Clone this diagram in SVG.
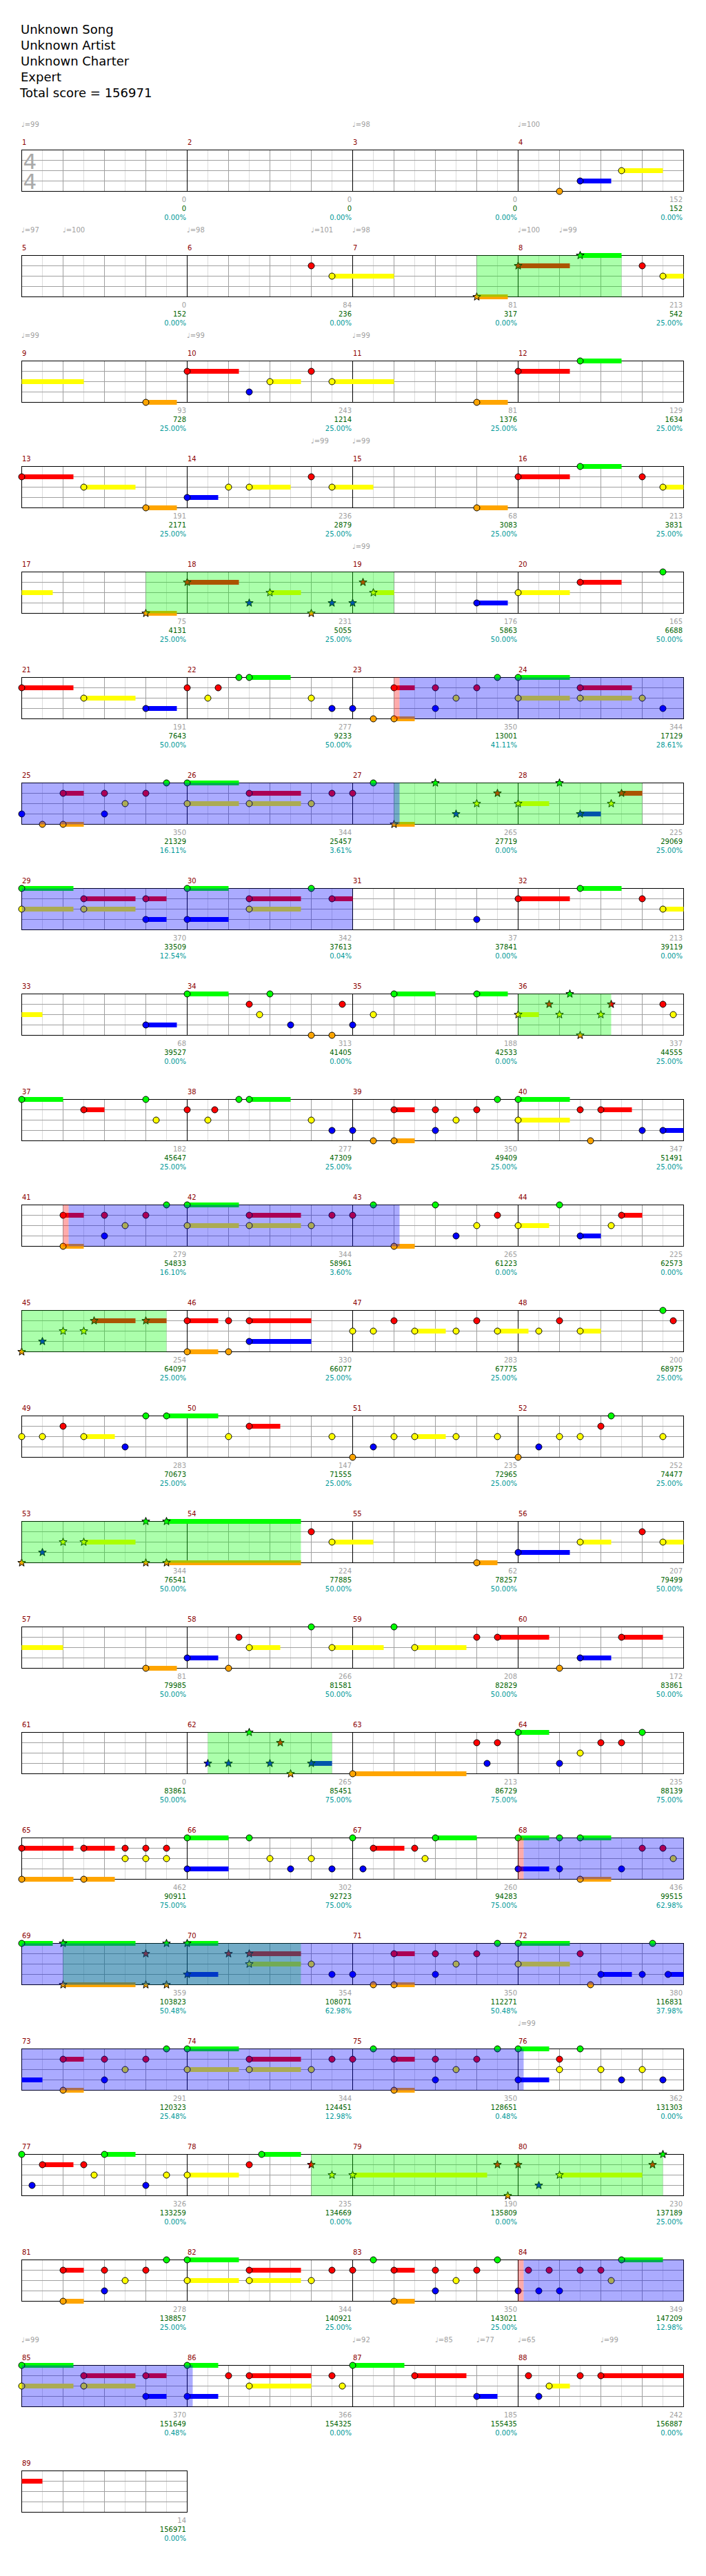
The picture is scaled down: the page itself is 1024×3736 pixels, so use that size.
<svg xmlns="http://www.w3.org/2000/svg" xmlns:xlink="http://www.w3.org/1999/xlink" width="1024" height="3736" viewBox="0 0 1024 3736">
<style>
text{font-family:"DejaVu Sans",Verdana,sans-serif}
.ti{font-size:18px;fill:#000}
.ts{font-size:31px;fill:#aaa}
.tp{font-size:10px;fill:#a0a0a0}
.mn{font-size:10px;fill:#8b0000}
.s1,.s2,.s3{font-size:10px;text-anchor:end}
.s1{fill:#a0a0a0}.s2{fill:#006400}.s3{fill:#009999}
.G{fill:#0f0}.R{fill:#f00}.Y{fill:#ff0}.B{fill:#00f}.O{fill:#ffa500}
use{stroke:#000;stroke-width:1}
.sG,.sR,.sY,.sB,.sO{fill:none;stroke-width:7}
.sG{stroke:#0f0}.sR{stroke:#f00}.sY{stroke:#ff0}.sB{stroke:#00f}.sO{stroke:#ffa500}
.og{fill:#0f0;fill-opacity:.33}.ob{fill:#00f;fill-opacity:.33}.or{fill:#f00;fill-opacity:.33}
.lt{stroke:#dcdcdc;fill:none}.md{stroke:#a0a0a0;fill:none}.bk{stroke:#000;fill:none}
</style>
<defs>
<circle id="c" r="4.5"/>
<path id="s" d="M0,-6L1.47,-2.02L5.71,-1.85L2.38,0.77L3.53,4.85L0,2.5L-3.53,4.85L-2.38,0.77L-5.71,-1.85L-1.47,-2.02Z"/>
<g id="g4">
<path class="lt" d="M30 0v60M90 0v60M150 0v60M210 0v60M270 0v60M330 0v60M390 0v60M450 0v60M510 0v60M570 0v60M630 0v60M690 0v60M750 0v60M810 0v60M870 0v60M930 0v60"/>
<path class="md" d="M60 0v60M120 0v60M180 0v60M300 0v60M360 0v60M420 0v60M540 0v60M600 0v60M660 0v60M780 0v60M840 0v60M900 0v60M0 15h960M0 30h960M0 45h960"/>
<path class="bk" d="M240 0v60M480 0v60M720 0v60"/>
<rect class="bk" width="960" height="60"/>
</g>
<g id="g1">
<path class="lt" d="M30 0v60M90 0v60M150 0v60M210 0v60"/>
<path class="md" d="M60 0v60M120 0v60M180 0v60M0 15h240M0 30h240M0 45h240"/>
<rect class="bk" width="240" height="60"/>
</g>
</defs>
<rect width="1024" height="3736" fill="#fff"/>
<g id="header">
<text class="ti" x="30" y="49">Unknown Song</text>
<text class="ti" x="30" y="72">Unknown Artist</text>
<text class="ti" x="30" y="95">Unknown Charter</text>
<text class="ti" x="30" y="118">Expert</text>
<text class="ti" x="29" y="141">Total score = 156971</text>
</g>

<g id="row1" transform="translate(31.5,217.5)">
<use href="#g4"/>
<text class="ts" x="2" y="27.5">4</text><text class="ts" x="2" y="56.5">4</text>
<path class="sB" d="M810 45H855"/><path class="sY" d="M870 30H930"/>
<use href="#c" class="O" x="780" y="60"/><use href="#c" class="B" x="810" y="45"/><use href="#c" class="Y" x="870" y="30"/>
<text class="tp" x="-0.5" y="-33.5">♩=99</text><text class="tp" x="479.5" y="-33.5">♩=98</text><text class="tp" x="719.5" y="-33.5">♩=100</text>
<text class="mn" x="0.5" y="-7.5">1</text><text class="mn" x="240.5" y="-7.5">2</text><text class="mn" x="480.5" y="-7.5">3</text><text class="mn" x="720.5" y="-7.5">4</text>
<text class="s1" x="238.5" y="75.5">0</text><text class="s2" x="238.5" y="88.5">0</text><text class="s3" x="238.5" y="101.5">0.00%</text>
<text class="s1" x="478.5" y="75.5">0</text><text class="s2" x="478.5" y="88.5">0</text><text class="s3" x="478.5" y="101.5">0.00%</text>
<text class="s1" x="718.5" y="75.5">0</text><text class="s2" x="718.5" y="88.5">0</text><text class="s3" x="718.5" y="101.5">0.00%</text>
<text class="s1" x="958.5" y="75.5">152</text><text class="s2" x="958.5" y="88.5">152</text><text class="s3" x="958.5" y="101.5">0.00%</text>
</g>

<g id="row2" transform="translate(31.5,370.5)">
<use href="#g4"/>
<path class="sY" d="M450 30H540M930 30H960"/><path class="sO" d="M660 60H705"/><path class="sR" d="M720 15H795"/><path class="sG" d="M810 0H870"/>
<use href="#c" class="R" x="420" y="15"/><use href="#c" class="Y" x="450" y="30"/>
<use href="#s" class="O" x="660" y="60"/><use href="#s" class="R" x="720" y="15"/><use href="#s" class="G" x="810" y="0"/>
<use href="#c" class="R" x="900" y="15"/><use href="#c" class="Y" x="930" y="30"/>
<rect class="og" x="660" y="0" width="210" height="60"/>
<text class="tp" x="-0.5" y="-33.5">♩=97</text><text class="tp" x="59.5" y="-33.5">♩=100</text><text class="tp" x="239.5" y="-33.5">♩=98</text><text class="tp" x="419.5" y="-33.5">♩=101</text><text class="tp" x="479.5" y="-33.5">♩=98</text><text class="tp" x="719.5" y="-33.5">♩=100</text><text class="tp" x="779.5" y="-33.5">♩=99</text>
<text class="mn" x="0.5" y="-7.5">5</text><text class="mn" x="240.5" y="-7.5">6</text><text class="mn" x="480.5" y="-7.5">7</text><text class="mn" x="720.5" y="-7.5">8</text>
<text class="s1" x="238.5" y="75.5">0</text><text class="s2" x="238.5" y="88.5">152</text><text class="s3" x="238.5" y="101.5">0.00%</text>
<text class="s1" x="478.5" y="75.5">84</text><text class="s2" x="478.5" y="88.5">236</text><text class="s3" x="478.5" y="101.5">0.00%</text>
<text class="s1" x="718.5" y="75.5">81</text><text class="s2" x="718.5" y="88.5">317</text><text class="s3" x="718.5" y="101.5">0.00%</text>
<text class="s1" x="958.5" y="75.5">213</text><text class="s2" x="958.5" y="88.5">542</text><text class="s3" x="958.5" y="101.5">25.00%</text>
</g>

<g id="row3" transform="translate(31.5,523.5)">
<use href="#g4"/>
<path class="sY" d="M0 30H90M360 30H405M450 30H540"/><path class="sO" d="M180 60H225M660 60H705"/><path class="sR" d="M240 15H315M720 15H795"/><path class="sG" d="M810 0H870"/>
<use href="#c" class="O" x="180" y="60"/><use href="#c" class="R" x="240" y="15"/><use href="#c" class="B" x="330" y="45"/><use href="#c" class="Y" x="360" y="30"/><use href="#c" class="R" x="420" y="15"/><use href="#c" class="Y" x="450" y="30"/><use href="#c" class="O" x="660" y="60"/><use href="#c" class="R" x="720" y="15"/><use href="#c" class="G" x="810" y="0"/>
<text class="tp" x="-0.5" y="-33.5">♩=99</text><text class="tp" x="239.5" y="-33.5">♩=99</text><text class="tp" x="479.5" y="-33.5">♩=99</text>
<text class="mn" x="0.5" y="-7.5">9</text><text class="mn" x="240.5" y="-7.5">10</text><text class="mn" x="480.5" y="-7.5">11</text><text class="mn" x="720.5" y="-7.5">12</text>
<text class="s1" x="238.5" y="75.5">93</text><text class="s2" x="238.5" y="88.5">728</text><text class="s3" x="238.5" y="101.5">25.00%</text>
<text class="s1" x="478.5" y="75.5">243</text><text class="s2" x="478.5" y="88.5">1214</text><text class="s3" x="478.5" y="101.5">25.00%</text>
<text class="s1" x="718.5" y="75.5">81</text><text class="s2" x="718.5" y="88.5">1376</text><text class="s3" x="718.5" y="101.5">25.00%</text>
<text class="s1" x="958.5" y="75.5">129</text><text class="s2" x="958.5" y="88.5">1634</text><text class="s3" x="958.5" y="101.5">25.00%</text>
</g>

<g id="row4" transform="translate(31.5,676.5)">
<use href="#g4"/>
<path class="sR" d="M0 15H75M720 15H795"/><path class="sY" d="M90 30H165M330 30H390M450 30H510M930 30H960"/><path class="sO" d="M180 60H225M660 60H705"/><path class="sB" d="M240 45H285"/><path class="sG" d="M810 0H870"/>
<use href="#c" class="R" x="0" y="15"/><use href="#c" class="Y" x="90" y="30"/><use href="#c" class="O" x="180" y="60"/><use href="#c" class="B" x="240" y="45"/><use href="#c" class="Y" x="300" y="30"/><use href="#c" class="Y" x="330" y="30"/><use href="#c" class="R" x="420" y="15"/><use href="#c" class="Y" x="450" y="30"/><use href="#c" class="O" x="660" y="60"/><use href="#c" class="R" x="720" y="15"/><use href="#c" class="G" x="810" y="0"/><use href="#c" class="R" x="900" y="15"/><use href="#c" class="Y" x="930" y="30"/>
<text class="tp" x="419.5" y="-33.5">♩=99</text><text class="tp" x="479.5" y="-33.5">♩=99</text>
<text class="mn" x="0.5" y="-7.5">13</text><text class="mn" x="240.5" y="-7.5">14</text><text class="mn" x="480.5" y="-7.5">15</text><text class="mn" x="720.5" y="-7.5">16</text>
<text class="s1" x="238.5" y="75.5">191</text><text class="s2" x="238.5" y="88.5">2171</text><text class="s3" x="238.5" y="101.5">25.00%</text>
<text class="s1" x="478.5" y="75.5">236</text><text class="s2" x="478.5" y="88.5">2879</text><text class="s3" x="478.5" y="101.5">25.00%</text>
<text class="s1" x="718.5" y="75.5">68</text><text class="s2" x="718.5" y="88.5">3083</text><text class="s3" x="718.5" y="101.5">25.00%</text>
<text class="s1" x="958.5" y="75.5">213</text><text class="s2" x="958.5" y="88.5">3831</text><text class="s3" x="958.5" y="101.5">25.00%</text>
</g>

<g id="row5" transform="translate(31.5,829.5)">
<use href="#g4"/>
<path class="sY" d="M0 30H45M360 30H405M510 30H540M720 30H795"/><path class="sO" d="M180 60H225"/><path class="sR" d="M240 15H315M810 15H870"/><path class="sB" d="M660 45H705"/>
<use href="#s" class="O" x="180" y="60"/><use href="#s" class="R" x="240" y="15"/><use href="#s" class="B" x="330" y="45"/><use href="#s" class="Y" x="360" y="30"/><use href="#s" class="O" x="420" y="60"/><use href="#s" class="B" x="450" y="45"/><use href="#s" class="B" x="480" y="45"/><use href="#s" class="R" x="495" y="15"/><use href="#s" class="Y" x="510" y="30"/>
<use href="#c" class="B" x="660" y="45"/><use href="#c" class="Y" x="720" y="30"/><use href="#c" class="R" x="810" y="15"/><use href="#c" class="G" x="930" y="0"/>
<rect class="og" x="180" y="0" width="360" height="60"/>
<text class="tp" x="479.5" y="-33.5">♩=99</text>
<text class="mn" x="0.5" y="-7.5">17</text><text class="mn" x="240.5" y="-7.5">18</text><text class="mn" x="480.5" y="-7.5">19</text><text class="mn" x="720.5" y="-7.5">20</text>
<text class="s1" x="238.5" y="75.5">75</text><text class="s2" x="238.5" y="88.5">4131</text><text class="s3" x="238.5" y="101.5">25.00%</text>
<text class="s1" x="478.5" y="75.5">231</text><text class="s2" x="478.5" y="88.5">5055</text><text class="s3" x="478.5" y="101.5">25.00%</text>
<text class="s1" x="718.5" y="75.5">176</text><text class="s2" x="718.5" y="88.5">5863</text><text class="s3" x="718.5" y="101.5">50.00%</text>
<text class="s1" x="958.5" y="75.5">165</text><text class="s2" x="958.5" y="88.5">6688</text><text class="s3" x="958.5" y="101.5">50.00%</text>
</g>

<g id="row6" transform="translate(31.5,982.5)">
<use href="#g4"/>
<path class="sR" d="M0 15H75M540 15H570M810 15H885"/><path class="sY" d="M90 30H165M720 30H795M810 30H885"/><path class="sB" d="M180 45H225"/><path class="sG" d="M330 0H390M720 0H795"/><path class="sO" d="M540 60H570"/>
<use href="#c" class="R" x="0" y="15"/><use href="#c" class="Y" x="90" y="30"/><use href="#c" class="B" x="180" y="45"/><use href="#c" class="R" x="240" y="15"/><use href="#c" class="Y" x="270" y="30"/><use href="#c" class="R" x="285" y="15"/><use href="#c" class="G" x="315" y="0"/><use href="#c" class="G" x="330" y="0"/><use href="#c" class="Y" x="420" y="30"/><use href="#c" class="B" x="450" y="45"/><use href="#c" class="B" x="480" y="45"/><use href="#c" class="O" x="510" y="60"/><use href="#c" class="R" x="540" y="15"/><use href="#c" class="O" x="540" y="60"/><use href="#c" class="R" x="600" y="15"/><use href="#c" class="B" x="600" y="45"/><use href="#c" class="Y" x="630" y="30"/><use href="#c" class="R" x="660" y="15"/><use href="#c" class="G" x="690" y="0"/><use href="#c" class="G" x="720" y="0"/><use href="#c" class="Y" x="720" y="30"/><use href="#c" class="R" x="810" y="15"/><use href="#c" class="Y" x="810" y="30"/><use href="#c" class="Y" x="900" y="30"/><use href="#c" class="B" x="930" y="45"/>
<rect class="or" x="540" y="0" width="8" height="60"/><rect class="ob" x="548" y="0" width="412" height="60"/>
<text class="mn" x="0.5" y="-7.5">21</text><text class="mn" x="240.5" y="-7.5">22</text><text class="mn" x="480.5" y="-7.5">23</text><text class="mn" x="720.5" y="-7.5">24</text>
<text class="s1" x="238.5" y="75.5">191</text><text class="s2" x="238.5" y="88.5">7643</text><text class="s3" x="238.5" y="101.5">50.00%</text>
<text class="s1" x="478.5" y="75.5">277</text><text class="s2" x="478.5" y="88.5">9233</text><text class="s3" x="478.5" y="101.5">50.00%</text>
<text class="s1" x="718.5" y="75.5">350</text><text class="s2" x="718.5" y="88.5">13001</text><text class="s3" x="718.5" y="101.5">41.11%</text>
<text class="s1" x="958.5" y="75.5">344</text><text class="s2" x="958.5" y="88.5">17129</text><text class="s3" x="958.5" y="101.5">28.61%</text>
</g>

<g id="row7" transform="translate(31.5,1135.5)">
<use href="#g4"/>
<path class="sR" d="M60 15H90M330 15H405M870 15H900"/><path class="sO" d="M60 60H90M540 60H570"/><path class="sG" d="M240 0H315"/><path class="sY" d="M240 30H315M330 30H405M720 30H765"/><path class="sB" d="M810 45H840"/>
<use href="#c" class="B" x="0" y="45"/><use href="#c" class="O" x="30" y="60"/><use href="#c" class="R" x="60" y="15"/><use href="#c" class="O" x="60" y="60"/><use href="#c" class="R" x="120" y="15"/><use href="#c" class="B" x="120" y="45"/><use href="#c" class="Y" x="150" y="30"/><use href="#c" class="R" x="180" y="15"/><use href="#c" class="G" x="210" y="0"/><use href="#c" class="G" x="240" y="0"/><use href="#c" class="Y" x="240" y="30"/><use href="#c" class="R" x="330" y="15"/><use href="#c" class="Y" x="330" y="30"/><use href="#c" class="Y" x="420" y="30"/><use href="#c" class="R" x="450" y="15"/><use href="#c" class="R" x="480" y="15"/><use href="#c" class="G" x="510" y="0"/>
<use href="#s" class="O" x="540" y="60"/><use href="#s" class="G" x="600" y="0"/><use href="#s" class="B" x="630" y="45"/><use href="#s" class="Y" x="660" y="30"/><use href="#s" class="R" x="690" y="15"/><use href="#s" class="Y" x="720" y="30"/><use href="#s" class="G" x="780" y="0"/><use href="#s" class="B" x="810" y="45"/><use href="#s" class="Y" x="855" y="30"/><use href="#s" class="R" x="870" y="15"/>
<rect class="og" x="540" y="0" width="360" height="60"/><rect class="ob" x="0" y="0" width="548" height="60"/>
<text class="mn" x="0.5" y="-7.5">25</text><text class="mn" x="240.5" y="-7.5">26</text><text class="mn" x="480.5" y="-7.5">27</text><text class="mn" x="720.5" y="-7.5">28</text>
<text class="s1" x="238.5" y="75.5">350</text><text class="s2" x="238.5" y="88.5">21329</text><text class="s3" x="238.5" y="101.5">16.11%</text>
<text class="s1" x="478.5" y="75.5">344</text><text class="s2" x="478.5" y="88.5">25457</text><text class="s3" x="478.5" y="101.5">3.61%</text>
<text class="s1" x="718.5" y="75.5">265</text><text class="s2" x="718.5" y="88.5">27719</text><text class="s3" x="718.5" y="101.5">0.00%</text>
<text class="s1" x="958.5" y="75.5">225</text><text class="s2" x="958.5" y="88.5">29069</text><text class="s3" x="958.5" y="101.5">25.00%</text>
</g>

<g id="row8" transform="translate(31.5,1288.5)">
<use href="#g4"/>
<path class="sG" d="M0 0H75M240 0H300M810 0H870"/><path class="sY" d="M0 30H75M90 30H165M330 30H405M930 30H960"/><path class="sR" d="M90 15H165M180 15H210M330 15H405M450 15H480M720 15H795"/><path class="sB" d="M180 45H210M240 45H300"/>
<use href="#c" class="G" x="0" y="0"/><use href="#c" class="Y" x="0" y="30"/><use href="#c" class="R" x="90" y="15"/><use href="#c" class="Y" x="90" y="30"/><use href="#c" class="R" x="180" y="15"/><use href="#c" class="B" x="180" y="45"/><use href="#c" class="G" x="240" y="0"/><use href="#c" class="B" x="240" y="45"/><use href="#c" class="R" x="330" y="15"/><use href="#c" class="Y" x="330" y="30"/><use href="#c" class="G" x="420" y="0"/><use href="#c" class="R" x="450" y="15"/><use href="#c" class="B" x="660" y="45"/><use href="#c" class="R" x="720" y="15"/><use href="#c" class="G" x="810" y="0"/><use href="#c" class="R" x="900" y="15"/><use href="#c" class="Y" x="930" y="30"/>
<rect class="ob" x="0" y="0" width="480" height="60"/>
<text class="mn" x="0.5" y="-7.5">29</text><text class="mn" x="240.5" y="-7.5">30</text><text class="mn" x="480.5" y="-7.5">31</text><text class="mn" x="720.5" y="-7.5">32</text>
<text class="s1" x="238.5" y="75.5">370</text><text class="s2" x="238.5" y="88.5">33509</text><text class="s3" x="238.5" y="101.5">12.54%</text>
<text class="s1" x="478.5" y="75.5">342</text><text class="s2" x="478.5" y="88.5">37613</text><text class="s3" x="478.5" y="101.5">0.04%</text>
<text class="s1" x="718.5" y="75.5">37</text><text class="s2" x="718.5" y="88.5">37841</text><text class="s3" x="718.5" y="101.5">0.00%</text>
<text class="s1" x="958.5" y="75.5">213</text><text class="s2" x="958.5" y="88.5">39119</text><text class="s3" x="958.5" y="101.5">0.00%</text>
</g>

<g id="row9" transform="translate(31.5,1441.5)">
<use href="#g4"/>
<path class="sY" d="M0 30H30M720 30H750"/><path class="sB" d="M180 45H225"/><path class="sG" d="M240 0H300M540 0H600M660 0H705"/>
<use href="#c" class="B" x="180" y="45"/><use href="#c" class="G" x="240" y="0"/><use href="#c" class="R" x="330" y="15"/><use href="#c" class="Y" x="345" y="30"/><use href="#c" class="G" x="360" y="0"/><use href="#c" class="B" x="390" y="45"/><use href="#c" class="O" x="420" y="60"/><use href="#c" class="O" x="450" y="60"/><use href="#c" class="R" x="465" y="15"/><use href="#c" class="B" x="480" y="45"/><use href="#c" class="Y" x="510" y="30"/><use href="#c" class="G" x="540" y="0"/><use href="#c" class="G" x="660" y="0"/>
<use href="#s" class="Y" x="720" y="30"/><use href="#s" class="R" x="765" y="15"/><use href="#s" class="Y" x="780" y="30"/><use href="#s" class="G" x="795" y="0"/><use href="#s" class="O" x="810" y="60"/><use href="#s" class="Y" x="840" y="30"/><use href="#s" class="R" x="855" y="15"/>
<use href="#c" class="R" x="930" y="15"/><use href="#c" class="Y" x="945" y="30"/>
<rect class="og" x="720" y="0" width="135" height="60"/>
<text class="mn" x="0.5" y="-7.5">33</text><text class="mn" x="240.5" y="-7.5">34</text><text class="mn" x="480.5" y="-7.5">35</text><text class="mn" x="720.5" y="-7.5">36</text>
<text class="s1" x="238.5" y="75.5">68</text><text class="s2" x="238.5" y="88.5">39527</text><text class="s3" x="238.5" y="101.5">0.00%</text>
<text class="s1" x="478.5" y="75.5">313</text><text class="s2" x="478.5" y="88.5">41405</text><text class="s3" x="478.5" y="101.5">0.00%</text>
<text class="s1" x="718.5" y="75.5">188</text><text class="s2" x="718.5" y="88.5">42533</text><text class="s3" x="718.5" y="101.5">0.00%</text>
<text class="s1" x="958.5" y="75.5">337</text><text class="s2" x="958.5" y="88.5">44555</text><text class="s3" x="958.5" y="101.5">25.00%</text>
</g>

<g id="row10" transform="translate(31.5,1594.5)">
<use href="#g4"/>
<path class="sG" d="M0 0H60M330 0H390M720 0H795"/><path class="sR" d="M90 15H120M540 15H570M840 15H885"/><path class="sO" d="M540 60H570"/><path class="sY" d="M720 30H795"/><path class="sB" d="M930 45H960"/>
<use href="#c" class="G" x="0" y="0"/><use href="#c" class="R" x="90" y="15"/><use href="#c" class="G" x="180" y="0"/><use href="#c" class="Y" x="195" y="30"/><use href="#c" class="R" x="240" y="15"/><use href="#c" class="Y" x="270" y="30"/><use href="#c" class="R" x="280" y="15"/><use href="#c" class="G" x="315" y="0"/><use href="#c" class="G" x="330" y="0"/><use href="#c" class="Y" x="420" y="30"/><use href="#c" class="B" x="450" y="45"/><use href="#c" class="B" x="480" y="45"/><use href="#c" class="O" x="510" y="60"/><use href="#c" class="R" x="540" y="15"/><use href="#c" class="O" x="540" y="60"/><use href="#c" class="R" x="600" y="15"/><use href="#c" class="B" x="600" y="45"/><use href="#c" class="Y" x="630" y="30"/><use href="#c" class="R" x="660" y="15"/><use href="#c" class="G" x="690" y="0"/><use href="#c" class="G" x="720" y="0"/><use href="#c" class="Y" x="720" y="30"/><use href="#c" class="R" x="810" y="15"/><use href="#c" class="O" x="825" y="60"/><use href="#c" class="R" x="840" y="15"/><use href="#c" class="B" x="900" y="45"/><use href="#c" class="B" x="930" y="45"/>
<text class="mn" x="0.5" y="-7.5">37</text><text class="mn" x="240.5" y="-7.5">38</text><text class="mn" x="480.5" y="-7.5">39</text><text class="mn" x="720.5" y="-7.5">40</text>
<text class="s1" x="238.5" y="75.5">182</text><text class="s2" x="238.5" y="88.5">45647</text><text class="s3" x="238.5" y="101.5">25.00%</text>
<text class="s1" x="478.5" y="75.5">277</text><text class="s2" x="478.5" y="88.5">47309</text><text class="s3" x="478.5" y="101.5">25.00%</text>
<text class="s1" x="718.5" y="75.5">350</text><text class="s2" x="718.5" y="88.5">49409</text><text class="s3" x="718.5" y="101.5">25.00%</text>
<text class="s1" x="958.5" y="75.5">347</text><text class="s2" x="958.5" y="88.5">51491</text><text class="s3" x="958.5" y="101.5">25.00%</text>
</g>

<g id="row11" transform="translate(31.5,1747.5)">
<use href="#g4"/>
<path class="sR" d="M60 15H90M330 15H405M870 15H900"/><path class="sO" d="M60 60H90M540 60H570"/><path class="sG" d="M240 0H315"/><path class="sY" d="M240 30H315M330 30H405M720 30H765"/><path class="sB" d="M810 45H840"/>
<use href="#c" class="R" x="60" y="15"/><use href="#c" class="O" x="60" y="60"/><use href="#c" class="R" x="120" y="15"/><use href="#c" class="B" x="120" y="45"/><use href="#c" class="Y" x="150" y="30"/><use href="#c" class="R" x="180" y="15"/><use href="#c" class="G" x="210" y="0"/><use href="#c" class="G" x="240" y="0"/><use href="#c" class="Y" x="240" y="30"/><use href="#c" class="R" x="330" y="15"/><use href="#c" class="Y" x="330" y="30"/><use href="#c" class="Y" x="420" y="30"/><use href="#c" class="R" x="450" y="15"/><use href="#c" class="R" x="480" y="15"/><use href="#c" class="G" x="510" y="0"/><use href="#c" class="O" x="540" y="60"/><use href="#c" class="G" x="600" y="0"/><use href="#c" class="B" x="630" y="45"/><use href="#c" class="Y" x="660" y="30"/><use href="#c" class="R" x="690" y="15"/><use href="#c" class="Y" x="720" y="30"/><use href="#c" class="G" x="780" y="0"/><use href="#c" class="B" x="810" y="45"/><use href="#c" class="Y" x="855" y="30"/><use href="#c" class="R" x="870" y="15"/>
<rect class="or" x="60" y="0" width="8" height="60"/><rect class="ob" x="68" y="0" width="480" height="60"/>
<text class="mn" x="0.5" y="-7.5">41</text><text class="mn" x="240.5" y="-7.5">42</text><text class="mn" x="480.5" y="-7.5">43</text><text class="mn" x="720.5" y="-7.5">44</text>
<text class="s1" x="238.5" y="75.5">279</text><text class="s2" x="238.5" y="88.5">54833</text><text class="s3" x="238.5" y="101.5">16.10%</text>
<text class="s1" x="478.5" y="75.5">344</text><text class="s2" x="478.5" y="88.5">58961</text><text class="s3" x="478.5" y="101.5">3.60%</text>
<text class="s1" x="718.5" y="75.5">265</text><text class="s2" x="718.5" y="88.5">61223</text><text class="s3" x="718.5" y="101.5">0.00%</text>
<text class="s1" x="958.5" y="75.5">225</text><text class="s2" x="958.5" y="88.5">62573</text><text class="s3" x="958.5" y="101.5">0.00%</text>
</g>

<g id="row12" transform="translate(31.5,1900.5)">
<use href="#g4"/>
<path class="sR" d="M105 15H165M180 15H210M240 15H285M330 15H420"/><path class="sO" d="M240 60H285"/><path class="sB" d="M330 45H420"/><path class="sY" d="M570 30H615M690 30H735M810 30H840"/>
<use href="#s" class="O" x="0" y="60"/><use href="#s" class="B" x="30" y="45"/><use href="#s" class="Y" x="60" y="30"/><use href="#s" class="Y" x="90" y="30"/><use href="#s" class="R" x="105" y="15"/><use href="#s" class="R" x="180" y="15"/>
<use href="#c" class="R" x="240" y="15"/><use href="#c" class="O" x="240" y="60"/><use href="#c" class="R" x="300" y="15"/><use href="#c" class="O" x="300" y="60"/><use href="#c" class="R" x="330" y="15"/><use href="#c" class="B" x="330" y="45"/><use href="#c" class="Y" x="480" y="30"/><use href="#c" class="Y" x="510" y="30"/><use href="#c" class="R" x="540" y="15"/><use href="#c" class="Y" x="570" y="30"/><use href="#c" class="Y" x="630" y="30"/><use href="#c" class="R" x="660" y="15"/><use href="#c" class="Y" x="690" y="30"/><use href="#c" class="Y" x="750" y="30"/><use href="#c" class="R" x="780" y="15"/><use href="#c" class="Y" x="810" y="30"/><use href="#c" class="G" x="930" y="0"/><use href="#c" class="R" x="945" y="15"/>
<rect class="og" x="0" y="0" width="210" height="60"/>
<text class="mn" x="0.5" y="-7.5">45</text><text class="mn" x="240.5" y="-7.5">46</text><text class="mn" x="480.5" y="-7.5">47</text><text class="mn" x="720.5" y="-7.5">48</text>
<text class="s1" x="238.5" y="75.5">254</text><text class="s2" x="238.5" y="88.5">64097</text><text class="s3" x="238.5" y="101.5">25.00%</text>
<text class="s1" x="478.5" y="75.5">330</text><text class="s2" x="478.5" y="88.5">66077</text><text class="s3" x="478.5" y="101.5">25.00%</text>
<text class="s1" x="718.5" y="75.5">283</text><text class="s2" x="718.5" y="88.5">67775</text><text class="s3" x="718.5" y="101.5">25.00%</text>
<text class="s1" x="958.5" y="75.5">200</text><text class="s2" x="958.5" y="88.5">68975</text><text class="s3" x="958.5" y="101.5">25.00%</text>
</g>

<g id="row13" transform="translate(31.5,2053.5)">
<use href="#g4"/>
<path class="sY" d="M90 30H135M570 30H615"/><path class="sG" d="M210 0H285"/><path class="sR" d="M330 15H375"/>
<use href="#c" class="Y" x="0" y="30"/><use href="#c" class="Y" x="30" y="30"/><use href="#c" class="R" x="60" y="15"/><use href="#c" class="Y" x="90" y="30"/><use href="#c" class="B" x="150" y="45"/><use href="#c" class="G" x="180" y="0"/><use href="#c" class="G" x="210" y="0"/><use href="#c" class="Y" x="300" y="30"/><use href="#c" class="R" x="330" y="15"/><use href="#c" class="Y" x="450" y="30"/><use href="#c" class="O" x="480" y="60"/><use href="#c" class="B" x="510" y="45"/><use href="#c" class="Y" x="540" y="30"/><use href="#c" class="Y" x="570" y="30"/><use href="#c" class="Y" x="630" y="30"/><use href="#c" class="Y" x="690" y="30"/><use href="#c" class="O" x="720" y="60"/><use href="#c" class="B" x="750" y="45"/><use href="#c" class="Y" x="780" y="30"/><use href="#c" class="Y" x="810" y="30"/><use href="#c" class="R" x="840" y="15"/><use href="#c" class="G" x="855" y="0"/><use href="#c" class="Y" x="930" y="30"/>
<text class="mn" x="0.5" y="-7.5">49</text><text class="mn" x="240.5" y="-7.5">50</text><text class="mn" x="480.5" y="-7.5">51</text><text class="mn" x="720.5" y="-7.5">52</text>
<text class="s1" x="238.5" y="75.5">283</text><text class="s2" x="238.5" y="88.5">70673</text><text class="s3" x="238.5" y="101.5">25.00%</text>
<text class="s1" x="478.5" y="75.5">147</text><text class="s2" x="478.5" y="88.5">71555</text><text class="s3" x="478.5" y="101.5">25.00%</text>
<text class="s1" x="718.5" y="75.5">235</text><text class="s2" x="718.5" y="88.5">72965</text><text class="s3" x="718.5" y="101.5">25.00%</text>
<text class="s1" x="958.5" y="75.5">252</text><text class="s2" x="958.5" y="88.5">74477</text><text class="s3" x="958.5" y="101.5">25.00%</text>
</g>

<g id="row14" transform="translate(31.5,2206.5)">
<use href="#g4"/>
<path class="sY" d="M90 30H165M450 30H510M810 30H855M930 30H960"/><path class="sG" d="M210 0H405"/><path class="sO" d="M210 60H405M660 60H690"/><path class="sB" d="M720 45H795"/>
<use href="#s" class="O" x="0" y="60"/><use href="#s" class="B" x="30" y="45"/><use href="#s" class="Y" x="60" y="30"/><use href="#s" class="Y" x="90" y="30"/><use href="#s" class="G" x="180" y="0"/><use href="#s" class="O" x="180" y="60"/><use href="#s" class="G" x="210" y="0"/><use href="#s" class="O" x="210" y="60"/>
<use href="#c" class="R" x="420" y="15"/><use href="#c" class="Y" x="450" y="30"/><use href="#c" class="O" x="660" y="60"/><use href="#c" class="B" x="720" y="45"/><use href="#c" class="Y" x="810" y="30"/><use href="#c" class="R" x="900" y="15"/><use href="#c" class="Y" x="930" y="30"/>
<rect class="og" x="0" y="0" width="405" height="60"/>
<text class="mn" x="0.5" y="-7.5">53</text><text class="mn" x="240.5" y="-7.5">54</text><text class="mn" x="480.5" y="-7.5">55</text><text class="mn" x="720.5" y="-7.5">56</text>
<text class="s1" x="238.5" y="75.5">344</text><text class="s2" x="238.5" y="88.5">76541</text><text class="s3" x="238.5" y="101.5">50.00%</text>
<text class="s1" x="478.5" y="75.5">224</text><text class="s2" x="478.5" y="88.5">77885</text><text class="s3" x="478.5" y="101.5">50.00%</text>
<text class="s1" x="718.5" y="75.5">62</text><text class="s2" x="718.5" y="88.5">78257</text><text class="s3" x="718.5" y="101.5">50.00%</text>
<text class="s1" x="958.5" y="75.5">207</text><text class="s2" x="958.5" y="88.5">79499</text><text class="s3" x="958.5" y="101.5">50.00%</text>
</g>

<g id="row15" transform="translate(31.5,2359.5)">
<use href="#g4"/>
<path class="sY" d="M0 30H60M330 30H375M450 30H525M570 30H645"/><path class="sO" d="M180 60H225"/><path class="sB" d="M240 45H285M810 45H855"/><path class="sR" d="M690 15H765M870 15H930"/>
<use href="#c" class="O" x="180" y="60"/><use href="#c" class="B" x="240" y="45"/><use href="#c" class="O" x="300" y="60"/><use href="#c" class="R" x="315" y="15"/><use href="#c" class="Y" x="330" y="30"/><use href="#c" class="G" x="420" y="0"/><use href="#c" class="Y" x="450" y="30"/><use href="#c" class="G" x="540" y="0"/><use href="#c" class="Y" x="570" y="30"/><use href="#c" class="R" x="660" y="15"/><use href="#c" class="R" x="690" y="15"/><use href="#c" class="O" x="780" y="60"/><use href="#c" class="B" x="810" y="45"/><use href="#c" class="R" x="870" y="15"/>
<text class="mn" x="0.5" y="-7.5">57</text><text class="mn" x="240.5" y="-7.5">58</text><text class="mn" x="480.5" y="-7.5">59</text><text class="mn" x="720.5" y="-7.5">60</text>
<text class="s1" x="238.5" y="75.5">81</text><text class="s2" x="238.5" y="88.5">79985</text><text class="s3" x="238.5" y="101.5">50.00%</text>
<text class="s1" x="478.5" y="75.5">266</text><text class="s2" x="478.5" y="88.5">81581</text><text class="s3" x="478.5" y="101.5">50.00%</text>
<text class="s1" x="718.5" y="75.5">208</text><text class="s2" x="718.5" y="88.5">82829</text><text class="s3" x="718.5" y="101.5">50.00%</text>
<text class="s1" x="958.5" y="75.5">172</text><text class="s2" x="958.5" y="88.5">83861</text><text class="s3" x="958.5" y="101.5">50.00%</text>
</g>

<g id="row16" transform="translate(31.5,2512.5)">
<use href="#g4"/>
<path class="sB" d="M420 45H450"/><path class="sO" d="M480 60H645"/><path class="sG" d="M720 0H765"/>
<use href="#s" class="B" x="270" y="45"/><use href="#s" class="B" x="300" y="45"/><use href="#s" class="G" x="330" y="0"/><use href="#s" class="B" x="360" y="45"/><use href="#s" class="R" x="375" y="15"/><use href="#s" class="O" x="390" y="60"/><use href="#s" class="B" x="420" y="45"/>
<use href="#c" class="O" x="480" y="60"/><use href="#c" class="R" x="660" y="15"/><use href="#c" class="B" x="675" y="45"/><use href="#c" class="R" x="690" y="15"/><use href="#c" class="G" x="720" y="0"/><use href="#c" class="B" x="780" y="45"/><use href="#c" class="Y" x="810" y="30"/><use href="#c" class="R" x="840" y="15"/><use href="#c" class="R" x="870" y="15"/><use href="#c" class="G" x="900" y="0"/>
<rect class="og" x="270" y="0" width="180" height="60"/>
<text class="mn" x="0.5" y="-7.5">61</text><text class="mn" x="240.5" y="-7.5">62</text><text class="mn" x="480.5" y="-7.5">63</text><text class="mn" x="720.5" y="-7.5">64</text>
<text class="s1" x="238.5" y="75.5">0</text><text class="s2" x="238.5" y="88.5">83861</text><text class="s3" x="238.5" y="101.5">50.00%</text>
<text class="s1" x="478.5" y="75.5">265</text><text class="s2" x="478.5" y="88.5">85451</text><text class="s3" x="478.5" y="101.5">75.00%</text>
<text class="s1" x="718.5" y="75.5">213</text><text class="s2" x="718.5" y="88.5">86729</text><text class="s3" x="718.5" y="101.5">75.00%</text>
<text class="s1" x="958.5" y="75.5">235</text><text class="s2" x="958.5" y="88.5">88139</text><text class="s3" x="958.5" y="101.5">75.00%</text>
</g>

<g id="row17" transform="translate(31.5,2665.5)">
<use href="#g4"/>
<path class="sR" d="M0 15H75M90 15H135M510 15H555"/><path class="sO" d="M0 60H75M90 60H135M810 60H855"/><path class="sG" d="M240 0H300M600 0H660M720 0H765M810 0H855"/><path class="sB" d="M240 45H300M720 45H765"/>
<use href="#c" class="R" x="0" y="15"/><use href="#c" class="O" x="0" y="60"/><use href="#c" class="R" x="90" y="15"/><use href="#c" class="O" x="90" y="60"/><use href="#c" class="R" x="150" y="15"/><use href="#c" class="Y" x="150" y="30"/><use href="#c" class="R" x="180" y="15"/><use href="#c" class="Y" x="180" y="30"/><use href="#c" class="R" x="210" y="15"/><use href="#c" class="Y" x="210" y="30"/><use href="#c" class="G" x="240" y="0"/><use href="#c" class="B" x="240" y="45"/><use href="#c" class="G" x="330" y="0"/><use href="#c" class="Y" x="360" y="30"/><use href="#c" class="B" x="390" y="45"/><use href="#c" class="Y" x="420" y="30"/><use href="#c" class="B" x="450" y="45"/><use href="#c" class="G" x="480" y="0"/><use href="#c" class="B" x="495" y="45"/><use href="#c" class="R" x="510" y="15"/><use href="#c" class="R" x="570" y="15"/><use href="#c" class="Y" x="585" y="30"/><use href="#c" class="G" x="600" y="0"/><use href="#c" class="G" x="720" y="0"/><use href="#c" class="B" x="720" y="45"/><use href="#c" class="G" x="780" y="0"/><use href="#c" class="B" x="780" y="45"/><use href="#c" class="G" x="810" y="0"/><use href="#c" class="O" x="810" y="60"/><use href="#c" class="B" x="870" y="45"/><use href="#c" class="R" x="900" y="15"/><use href="#c" class="R" x="930" y="15"/><use href="#c" class="Y" x="945" y="30"/>
<rect class="or" x="720" y="0" width="8" height="60"/><rect class="ob" x="728" y="0" width="232" height="60"/>
<text class="mn" x="0.5" y="-7.5">65</text><text class="mn" x="240.5" y="-7.5">66</text><text class="mn" x="480.5" y="-7.5">67</text><text class="mn" x="720.5" y="-7.5">68</text>
<text class="s1" x="238.5" y="75.5">462</text><text class="s2" x="238.5" y="88.5">90911</text><text class="s3" x="238.5" y="101.5">75.00%</text>
<text class="s1" x="478.5" y="75.5">302</text><text class="s2" x="478.5" y="88.5">92723</text><text class="s3" x="478.5" y="101.5">75.00%</text>
<text class="s1" x="718.5" y="75.5">260</text><text class="s2" x="718.5" y="88.5">94283</text><text class="s3" x="718.5" y="101.5">75.00%</text>
<text class="s1" x="958.5" y="75.5">436</text><text class="s2" x="958.5" y="88.5">99515</text><text class="s3" x="958.5" y="101.5">62.98%</text>
</g>

<g id="row18" transform="translate(31.5,2818.5)">
<use href="#g4"/>
<path class="sG" d="M0 0H45M60 0H165M240 0H285M720 0H795"/><path class="sO" d="M60 60H165M540 60H570"/><path class="sB" d="M240 45H285M840 45H885M937.5 45H960"/><path class="sR" d="M330 15H405M540 15H570"/><path class="sY" d="M330 30H405M720 30H795"/>
<use href="#c" class="G" x="0" y="0"/>
<use href="#s" class="G" x="60" y="0"/><use href="#s" class="O" x="60" y="60"/><use href="#s" class="R" x="180" y="15"/><use href="#s" class="O" x="180" y="60"/><use href="#s" class="G" x="210" y="0"/><use href="#s" class="O" x="210" y="60"/><use href="#s" class="G" x="240" y="0"/><use href="#s" class="B" x="240" y="45"/><use href="#s" class="R" x="300" y="15"/><use href="#s" class="R" x="330" y="15"/><use href="#s" class="Y" x="330" y="30"/>
<use href="#c" class="Y" x="420" y="30"/><use href="#c" class="B" x="450" y="45"/><use href="#c" class="B" x="480" y="45"/><use href="#c" class="O" x="510" y="60"/><use href="#c" class="R" x="540" y="15"/><use href="#c" class="O" x="540" y="60"/><use href="#c" class="R" x="600" y="15"/><use href="#c" class="B" x="600" y="45"/><use href="#c" class="Y" x="630" y="30"/><use href="#c" class="R" x="660" y="15"/><use href="#c" class="G" x="690" y="0"/><use href="#c" class="G" x="720" y="0"/><use href="#c" class="Y" x="720" y="30"/><use href="#c" class="R" x="810" y="15"/><use href="#c" class="O" x="825" y="60"/><use href="#c" class="B" x="840" y="45"/><use href="#c" class="B" x="900" y="45"/><use href="#c" class="G" x="915" y="0"/><use href="#c" class="B" x="937.5" y="45"/>
<rect class="og" x="60" y="0" width="345" height="60"/><rect class="ob" x="0" y="0" width="960" height="60"/>
<text class="mn" x="0.5" y="-7.5">69</text><text class="mn" x="240.5" y="-7.5">70</text><text class="mn" x="480.5" y="-7.5">71</text><text class="mn" x="720.5" y="-7.5">72</text>
<text class="s1" x="238.5" y="75.5">359</text><text class="s2" x="238.5" y="88.5">103823</text><text class="s3" x="238.5" y="101.5">50.48%</text>
<text class="s1" x="478.5" y="75.5">354</text><text class="s2" x="478.5" y="88.5">108071</text><text class="s3" x="478.5" y="101.5">62.98%</text>
<text class="s1" x="718.5" y="75.5">350</text><text class="s2" x="718.5" y="88.5">112271</text><text class="s3" x="718.5" y="101.5">50.48%</text>
<text class="s1" x="958.5" y="75.5">380</text><text class="s2" x="958.5" y="88.5">116831</text><text class="s3" x="958.5" y="101.5">37.98%</text>
</g>

<g id="row19" transform="translate(31.5,2971.5)">
<use href="#g4"/>
<path class="sB" d="M0 45H30M720 45H765"/><path class="sR" d="M60 15H90M330 15H405M540 15H570"/><path class="sO" d="M60 60H90M540 60H570"/><path class="sG" d="M240 0H315M720 0H765"/><path class="sY" d="M240 30H315M330 30H405"/>
<use href="#c" class="R" x="60" y="15"/><use href="#c" class="O" x="60" y="60"/><use href="#c" class="R" x="120" y="15"/><use href="#c" class="B" x="120" y="45"/><use href="#c" class="Y" x="150" y="30"/><use href="#c" class="R" x="180" y="15"/><use href="#c" class="G" x="210" y="0"/><use href="#c" class="G" x="240" y="0"/><use href="#c" class="Y" x="240" y="30"/><use href="#c" class="R" x="330" y="15"/><use href="#c" class="Y" x="330" y="30"/><use href="#c" class="Y" x="420" y="30"/><use href="#c" class="R" x="450" y="15"/><use href="#c" class="R" x="480" y="15"/><use href="#c" class="G" x="510" y="0"/><use href="#c" class="R" x="540" y="15"/><use href="#c" class="O" x="540" y="60"/><use href="#c" class="R" x="600" y="15"/><use href="#c" class="B" x="600" y="45"/><use href="#c" class="Y" x="630" y="30"/><use href="#c" class="R" x="660" y="15"/><use href="#c" class="G" x="690" y="0"/><use href="#c" class="G" x="720" y="0"/><use href="#c" class="B" x="720" y="45"/><use href="#c" class="R" x="780" y="15"/><use href="#c" class="Y" x="780" y="30"/><use href="#c" class="G" x="810" y="0"/><use href="#c" class="Y" x="840" y="30"/><use href="#c" class="B" x="870" y="45"/><use href="#c" class="Y" x="900" y="30"/><use href="#c" class="B" x="930" y="45"/>
<rect class="ob" x="0" y="0" width="728" height="60"/>
<text class="tp" x="719.5" y="-33.5">♩=99</text>
<text class="mn" x="0.5" y="-7.5">73</text><text class="mn" x="240.5" y="-7.5">74</text><text class="mn" x="480.5" y="-7.5">75</text><text class="mn" x="720.5" y="-7.5">76</text>
<text class="s1" x="238.5" y="75.5">291</text><text class="s2" x="238.5" y="88.5">120323</text><text class="s3" x="238.5" y="101.5">25.48%</text>
<text class="s1" x="478.5" y="75.5">344</text><text class="s2" x="478.5" y="88.5">124451</text><text class="s3" x="478.5" y="101.5">12.98%</text>
<text class="s1" x="718.5" y="75.5">350</text><text class="s2" x="718.5" y="88.5">128651</text><text class="s3" x="718.5" y="101.5">0.48%</text>
<text class="s1" x="958.5" y="75.5">362</text><text class="s2" x="958.5" y="88.5">131303</text><text class="s3" x="958.5" y="101.5">0.00%</text>
</g>

<g id="row20" transform="translate(31.5,3124.5)">
<use href="#g4"/>
<path class="sR" d="M30 15H75"/><path class="sG" d="M120 0H165M348 0H405"/><path class="sY" d="M240 30H315M480 30H675M780 30H900"/>
<use href="#c" class="G" x="0" y="0"/><use href="#c" class="B" x="15" y="45"/><use href="#c" class="R" x="30" y="15"/><use href="#c" class="R" x="90" y="15"/><use href="#c" class="Y" x="105" y="30"/><use href="#c" class="G" x="120" y="0"/><use href="#c" class="B" x="180" y="45"/><use href="#c" class="Y" x="210" y="30"/><use href="#c" class="Y" x="240" y="30"/><use href="#c" class="R" x="330" y="15"/><use href="#c" class="G" x="348" y="0"/>
<use href="#s" class="R" x="420" y="15"/><use href="#s" class="Y" x="450" y="30"/><use href="#s" class="Y" x="480" y="30"/><use href="#s" class="R" x="690" y="15"/><use href="#s" class="O" x="705" y="60"/><use href="#s" class="R" x="720" y="15"/><use href="#s" class="B" x="750" y="45"/><use href="#s" class="Y" x="780" y="30"/><use href="#s" class="R" x="915" y="15"/><use href="#s" class="G" x="930" y="0"/>
<rect class="og" x="420" y="0" width="510" height="60"/>
<text class="mn" x="0.5" y="-7.5">77</text><text class="mn" x="240.5" y="-7.5">78</text><text class="mn" x="480.5" y="-7.5">79</text><text class="mn" x="720.5" y="-7.5">80</text>
<text class="s1" x="238.5" y="75.5">326</text><text class="s2" x="238.5" y="88.5">133259</text><text class="s3" x="238.5" y="101.5">0.00%</text>
<text class="s1" x="478.5" y="75.5">235</text><text class="s2" x="478.5" y="88.5">134669</text><text class="s3" x="478.5" y="101.5">0.00%</text>
<text class="s1" x="718.5" y="75.5">190</text><text class="s2" x="718.5" y="88.5">135809</text><text class="s3" x="718.5" y="101.5">0.00%</text>
<text class="s1" x="958.5" y="75.5">230</text><text class="s2" x="958.5" y="88.5">137189</text><text class="s3" x="958.5" y="101.5">25.00%</text>
</g>

<g id="row21" transform="translate(31.5,3277.5)">
<use href="#g4"/>
<path class="sR" d="M60 15H90M330 15H405M540 15H570"/><path class="sO" d="M60 60H90M540 60H570"/><path class="sG" d="M240 0H315M870 0H930"/><path class="sY" d="M240 30H315M330 30H405"/>
<use href="#c" class="R" x="60" y="15"/><use href="#c" class="O" x="60" y="60"/><use href="#c" class="R" x="120" y="15"/><use href="#c" class="B" x="120" y="45"/><use href="#c" class="Y" x="150" y="30"/><use href="#c" class="R" x="180" y="15"/><use href="#c" class="G" x="210" y="0"/><use href="#c" class="G" x="240" y="0"/><use href="#c" class="Y" x="240" y="30"/><use href="#c" class="R" x="330" y="15"/><use href="#c" class="Y" x="330" y="30"/><use href="#c" class="Y" x="420" y="30"/><use href="#c" class="R" x="450" y="15"/><use href="#c" class="R" x="480" y="15"/><use href="#c" class="G" x="510" y="0"/><use href="#c" class="R" x="540" y="15"/><use href="#c" class="O" x="540" y="60"/><use href="#c" class="R" x="600" y="15"/><use href="#c" class="B" x="600" y="45"/><use href="#c" class="Y" x="630" y="30"/><use href="#c" class="R" x="660" y="15"/><use href="#c" class="G" x="690" y="0"/><use href="#c" class="B" x="720" y="45"/><use href="#c" class="R" x="735" y="15"/><use href="#c" class="B" x="750" y="45"/><use href="#c" class="R" x="765" y="15"/><use href="#c" class="B" x="780" y="45"/><use href="#c" class="R" x="810" y="15"/><use href="#c" class="R" x="840" y="15"/><use href="#c" class="Y" x="855" y="30"/><use href="#c" class="G" x="870" y="0"/>
<rect class="or" x="720" y="0" width="8" height="60"/><rect class="ob" x="728" y="0" width="232" height="60"/>
<text class="mn" x="0.5" y="-7.5">81</text><text class="mn" x="240.5" y="-7.5">82</text><text class="mn" x="480.5" y="-7.5">83</text><text class="mn" x="720.5" y="-7.5">84</text>
<text class="s1" x="238.5" y="75.5">278</text><text class="s2" x="238.5" y="88.5">138857</text><text class="s3" x="238.5" y="101.5">25.00%</text>
<text class="s1" x="478.5" y="75.5">344</text><text class="s2" x="478.5" y="88.5">140921</text><text class="s3" x="478.5" y="101.5">25.00%</text>
<text class="s1" x="718.5" y="75.5">350</text><text class="s2" x="718.5" y="88.5">143021</text><text class="s3" x="718.5" y="101.5">25.00%</text>
<text class="s1" x="958.5" y="75.5">349</text><text class="s2" x="958.5" y="88.5">147209</text><text class="s3" x="958.5" y="101.5">12.98%</text>
</g>

<g id="row22" transform="translate(31.5,3430.5)">
<use href="#g4"/>
<path class="sG" d="M0 0H75M240 0H285M480 0H555"/><path class="sY" d="M0 30H75M90 30H165M330 30H420M765 30H795"/><path class="sR" d="M90 15H165M180 15H210M330 15H420M570 15H645M840 15H960"/><path class="sB" d="M180 45H210M240 45H285M660 45H690"/>
<use href="#c" class="G" x="0" y="0"/><use href="#c" class="Y" x="0" y="30"/><use href="#c" class="R" x="90" y="15"/><use href="#c" class="Y" x="90" y="30"/><use href="#c" class="R" x="180" y="15"/><use href="#c" class="B" x="180" y="45"/><use href="#c" class="G" x="240" y="0"/><use href="#c" class="B" x="240" y="45"/><use href="#c" class="R" x="300" y="15"/><use href="#c" class="R" x="330" y="15"/><use href="#c" class="Y" x="330" y="30"/><use href="#c" class="R" x="450" y="15"/><use href="#c" class="Y" x="465" y="30"/><use href="#c" class="G" x="480" y="0"/><use href="#c" class="R" x="570" y="15"/><use href="#c" class="B" x="660" y="45"/><use href="#c" class="R" x="735" y="15"/><use href="#c" class="B" x="750" y="45"/><use href="#c" class="Y" x="765" y="30"/><use href="#c" class="R" x="810" y="15"/><use href="#c" class="R" x="840" y="15"/>
<rect class="ob" x="0" y="0" width="248" height="60"/>
<text class="tp" x="-0.5" y="-33.5">♩=99</text><text class="tp" x="479.5" y="-33.5">♩=92</text><text class="tp" x="599.5" y="-33.5">♩=85</text><text class="tp" x="659.5" y="-33.5">♩=77</text><text class="tp" x="719.5" y="-33.5">♩=65</text><text class="tp" x="839.5" y="-33.5">♩=99</text>
<text class="mn" x="0.5" y="-7.5">85</text><text class="mn" x="240.5" y="-7.5">86</text><text class="mn" x="480.5" y="-7.5">87</text><text class="mn" x="720.5" y="-7.5">88</text>
<text class="s1" x="238.5" y="75.5">370</text><text class="s2" x="238.5" y="88.5">151649</text><text class="s3" x="238.5" y="101.5">0.48%</text>
<text class="s1" x="478.5" y="75.5">366</text><text class="s2" x="478.5" y="88.5">154325</text><text class="s3" x="478.5" y="101.5">0.00%</text>
<text class="s1" x="718.5" y="75.5">185</text><text class="s2" x="718.5" y="88.5">155435</text><text class="s3" x="718.5" y="101.5">0.00%</text>
<text class="s1" x="958.5" y="75.5">242</text><text class="s2" x="958.5" y="88.5">156887</text><text class="s3" x="958.5" y="101.5">0.00%</text>
</g>

<g id="row23" transform="translate(31.5,3583.5)">
<use href="#g1"/>
<path class="sR" d="M0 15H30"/>
<text class="mn" x="0.5" y="-7.5">89</text>
<text class="s1" x="238.5" y="75.5">14</text><text class="s2" x="238.5" y="88.5">156971</text><text class="s3" x="238.5" y="101.5">0.00%</text>
</g>
</svg>
